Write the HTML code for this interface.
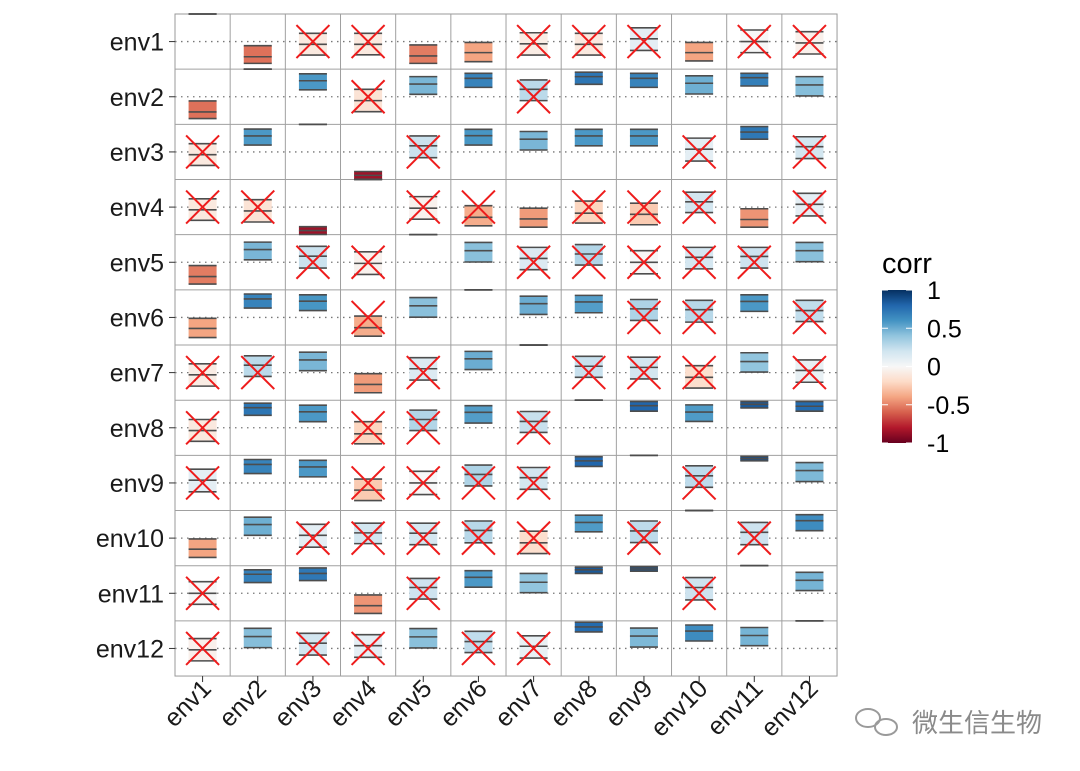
<!DOCTYPE html>
<html><head><meta charset="utf-8">
<style>
html,body{margin:0;padding:0;background:#fff;}
svg{display:block;font-family:"Liberation Sans","Noto Sans CJK SC",sans-serif;}
</style></head>
<body>
<svg id="chart" width="1080" height="771" viewBox="0 0 1080 771" xmlns="http://www.w3.org/2000/svg">
<defs>
<linearGradient id="grad" x1="0" y1="1" x2="0" y2="0">
<stop offset="0" stop-color="#67001F"/><stop offset="0.1" stop-color="#B2182B"/><stop offset="0.2" stop-color="#D6604D"/><stop offset="0.3" stop-color="#F4A582"/><stop offset="0.4" stop-color="#FDDBC7"/><stop offset="0.5" stop-color="#F7F7F7"/><stop offset="0.6" stop-color="#D1E5F0"/><stop offset="0.7" stop-color="#92C5DE"/><stop offset="0.8" stop-color="#4393C3"/><stop offset="0.9" stop-color="#2166AC"/><stop offset="1" stop-color="#053061"/>
</linearGradient>
</defs>
<g id="plot"></g>
<g id="legend">
<text x="882" y="273" font-size="29" fill="#000">corr</text>
<rect x="882" y="290" width="30" height="153" fill="url(#grad)"/>
</g>
<g>
<g fill="none" stroke="#9a9a9a" stroke-width="2">
<ellipse cx="868" cy="718" rx="12" ry="9"/><ellipse cx="886" cy="727" rx="11" ry="8"/>
</g>
<text x="912" y="732" font-size="26" fill="#8a8a8a">微生信生物</text>
</g>
</svg>
<script>
const labels = ["env1","env2","env3","env4","env5","env6","env7","env8","env9","env10","env11","env12"];
// upper-triangle pairs (1-based indices)
const pairI = [1,1,1,1,1,1,1,1,1,1,1, 2,2,2,2,2,2,2,2,2,2, 3,3,3,3,3,3,3,3,3, 4,4,4,4,4,4,4,4, 5,5,5,5,5,5,5, 6,6,6,6,6,6, 7,7,7,7,7, 8,8,8,8, 9,9,9, 10,10, 11];
const pairJ = [2,3,4,5,6,7,8,9,10,11,12, 3,4,5,6,7,8,9,10,11,12, 4,5,6,7,8,9,10,11,12, 5,6,7,8,9,10,11,12, 6,7,8,9,10,11,12, 7,8,9,10,11,12, 8,9,10,11,12, 9,10,11,12, 10,11,12, 11,12, 12];
const estimate = [-0.55,-0.10,-0.10,-0.52,-0.40,-0.08,-0.10,0.10,-0.40,0.00,-0.05,
 0.58,-0.14,0.46,0.67,0.27,0.73,0.67,0.49,0.69,0.43,
 -0.85,0.22,0.59,0.46,0.58,0.58,0.10,0.72,0.19,
 -0.04,-0.37,-0.43,-0.22,-0.26,0.19,-0.45,0.10,
 0.42,0.14,0.30,0.00,0.18,0.21,0.42,
 0.50,0.56,0.31,0.28,0.58,0.25,
 0.23,0.19,-0.17,0.40,0.08,
 0.80,0.57,0.85,0.78,
 0.26,0.88,0.45,
 0.21,0.63,
 0.47];
const lower = [-0.79,-0.49,-0.48,-0.79,-0.73,-0.49,-0.49,-0.32,-0.70,-0.40,-0.45,
 0.25,-0.54,0.09,0.34,-0.14,0.45,0.34,0.10,0.39,0.03,
 -0.99,-0.21,0.25,0.07,0.22,0.22,-0.33,0.46,-0.24,
 -0.44,-0.68,-0.73,-0.58,-0.64,-0.20,-0.73,-0.32,
 0.01,-0.27,-0.10,-0.42,-0.24,-0.21,0.02,
 0.11,0.17,-0.11,-0.17,0.22,-0.15,
 -0.17,-0.23,-0.56,0.02,-0.35,
 0.60,0.23,0.72,0.60,
 -0.16,0.80,0.05,
 -0.24,0.27,
 0.10];
const upper = [-0.15,0.30,0.30,-0.12,-0.03,0.32,0.30,0.50,-0.03,0.42,0.36,
 0.83,0.27,0.73,0.85,0.61,0.89,0.85,0.76,0.85,0.73,
 -0.71,0.58,0.82,0.74,0.82,0.82,0.50,0.92,0.55,
 0.38,0.05,-0.04,0.22,0.14,0.54,-0.06,0.50,
 0.72,0.54,0.64,0.42,0.54,0.54,0.72,
 0.77,0.80,0.65,0.62,0.82,0.62,
 0.59,0.56,0.25,0.72,0.46,
 0.95,0.83,0.95,0.95,
 0.62,0.96,0.74,
 0.57,0.85,
 0.76];
const legendTicks = [1,0.5,0,-0.5,-1];
const legendTickLabels = ["1","0.5","0","-0.5","-1"];

const NS="http://www.w3.org/2000/svg";
const L=175,T=14,N=12,CW=55.17,R=L+N*CW,B=T+N*CW;
const plot=document.getElementById('plot');
function mk(tag,attrs,parent){const e=document.createElementNS(NS,tag);for(const k in attrs)e.setAttribute(k,attrs[k]);(parent||plot).appendChild(e);return e;}
const colX=j=>L+(j-0.5)*CW;
const rowY=i=>T+(i-0.5)*CW;
const valY=(i,v)=>rowY(i)-v*CW/2;
const stops=[[-1,[103,0,31]],[-0.8,[178,24,43]],[-0.6,[214,96,77]],[-0.4,[244,165,130]],[-0.2,[253,219,199]],[0,[247,247,247]],[0.2,[209,229,240]],[0.4,[146,197,222]],[0.6,[67,147,195]],[0.8,[33,102,172]],[1,[5,48,97]]];
function color(v){v=Math.max(-1,Math.min(1,v));for(let k=0;k<stops.length-1;k++){const a=stops[k],b=stops[k+1];if(v<=b[0]){const t=(v-a[0])/(b[0]-a[0]);const c=a[1].map((x,m)=>Math.round(x+(b[1][m]-x)*t));return `rgb(${c})`;}}return 'rgb(5,48,97)';}

const bg=mk('rect',{x:L,y:T,width:N*CW,height:N*CW,fill:'#fff',stroke:'#999','stroke-width':1});


for(let k=1;k<N;k++){
  const v=mk('line',{x1:L+k*CW,x2:L+k*CW,y1:T,y2:B,stroke:'#a0a0a0','stroke-width':1});
  
  
  const h=mk('line',{x1:L,x2:R,y1:T+k*CW,y2:T+k*CW,stroke:'#a0a0a0','stroke-width':1});
  
  
}
for(let i=1;i<=N;i++){
  const d=mk('line',{x1:L,x2:R,y1:rowY(i),y2:rowY(i),stroke:'#777','stroke-width':1.3,'stroke-dasharray':'1.5 4.5'});
  
  
}
const cells=[];
for(let i=1;i<=N;i++)cells.push({i:i,j:i,r:1,lo:1,up:1});
for(let k=0;k<pairI.length;k++){
  const c={r:estimate[k],lo:lower[k],up:upper[k]};
  cells.push(Object.assign({i:pairI[k],j:pairJ[k]},c));
  cells.push(Object.assign({i:pairJ[k],j:pairI[k]},c));
}
const BW=28;
cells.forEach(c=>{
  const g=mk('g',{});
  
  
  const x0=colX(c.j)-BW/2,yU=valY(c.i,c.up),yL=valY(c.i,c.lo),yM=valY(c.i,c.r);
  const box=mk('rect',{x:x0,y:yU,width:BW,height:Math.max(0,yL-yU),fill:color(c.r)},g);
  
  
  [yU,yM,yL].forEach(y=>{
    const ln=mk('line',{x1:x0,x2:x0+BW,y1:y,y2:y,stroke:'#4d4d4d','stroke-width':1.6},g);
    
    
  });
  if(c.lo<0&&c.up>0){
    const cx=colX(c.j),cy=rowY(c.i),s=16.5;
    const p=mk('path',{d:`M${cx-s},${cy-s}L${cx+s},${cy+s}M${cx+s},${cy-s}L${cx-s},${cy+s}`,stroke:'#ee1c1c','stroke-width':2,fill:'none'},g);
    
    
  }
});
labels.forEach((lab,k)=>{
  const ty=mk('text',{x:164,y:rowY(k+1)+9,'font-size':25,'text-anchor':'end',fill:'#1a1a1a'});
  ty.textContent=lab;
  
  
  const tk=mk('line',{x1:169,x2:175,y1:rowY(k+1),y2:rowY(k+1),stroke:'#333'});
  
  
  const xx=colX(k+1)+10,yy=690;
  const tx=mk('text',{x:xx,y:yy,'font-size':25,'text-anchor':'end',fill:'#1a1a1a',transform:`rotate(-45 ${xx} ${yy})`});
  tx.textContent=lab;
  
  
  const xk=mk('line',{x1:colX(k+1),x2:colX(k+1),y1:B,y2:B+6,stroke:'#333'});
  
  
});
const leg=document.getElementById('legend');
const legY=v=>443-(v+1)/2*153;
legendTicks.forEach((v,k)=>{
  const y=legY(v);
  const t1=mk('line',{x1:882,x2:888,y1:y,y2:y,stroke:'#fff','stroke-width':1},leg);
  
  
  const t2=mk('line',{x1:906,x2:912,y1:y,y2:y,stroke:'#fff','stroke-width':1},leg);
  
  
  const tl=mk('text',{x:927,y:y+9,'font-size':25,fill:'#000'},leg);
  tl.textContent=legendTickLabels[k];
  
  
});
</script>
</body></html>
